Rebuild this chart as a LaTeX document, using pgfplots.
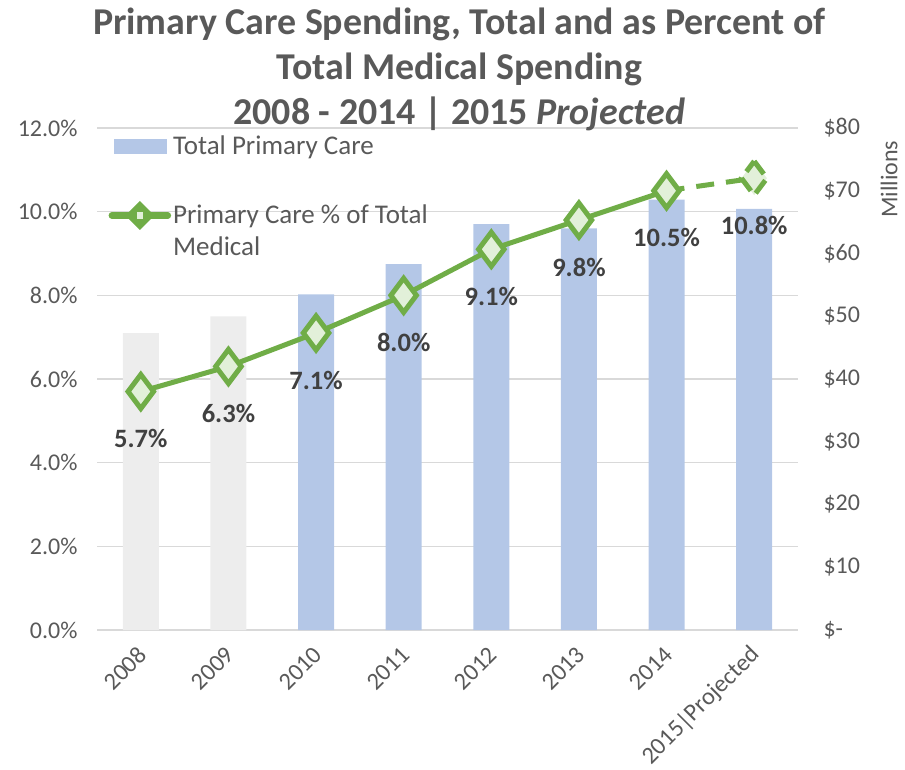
\documentclass[border=0pt]{standalone}
\usepackage{pgfplots}
\pgfplotsset{compat=1.18}
\usepackage{fontspec}
\setmainfont{Carlito}
\definecolor{txt}{HTML}{595959}
\definecolor{gridc}{HTML}{D9D9D9}
\definecolor{barblue}{HTML}{B4C7E7}
\definecolor{bargray}{HTML}{EDEDED}
\definecolor{lgreen}{HTML}{70AD47}
\definecolor{mfill}{HTML}{E2F0D9}
\definecolor{lbl}{HTML}{404040}
\begin{document}
\begin{tikzpicture}[x=1pt,y=1pt]
\useasboundingbox (-97,-139) rectangle (808,630);
% Bars on the right ($ millions) axis, with the gridlines behind
\begin{axis}[
  at={(0pt,0pt)}, anchor=south west,
  width=701pt, height=502pt, scale only axis,
  xmin=-0.5, xmax=7.5, ymin=0, ymax=80,
  axis y line*=right, axis x line*=bottom,
  y axis line style={draw=none},
  x axis line style={draw=gridc, line width=1.5pt, -},
  major tick length=0pt,
  xtick={0,...,7},
  xticklabels={2008,2009,2010,2011,2012,2013,2014,2015|Projected},
  x tick label style={rotate=45, anchor=east, font=\fontsize{24.3}{28}\selectfont, text=txt, xshift=-10pt, yshift=-16pt},
  ytick={0,10,...,80},
  yticklabels={\$-,\$10,\$20,\$30,\$40,\$50,\$60,\$70,\$80},
  y tick label style={font=\fontsize{24}{28}\selectfont, text=txt, anchor=west, xshift=22pt},
  extra y ticks={13.3333,26.6667,40,53.3333,66.6667,80},
  extra y tick labels={},
  extra y tick style={grid=major, major grid style={draw=gridc, line width=1.5pt}},
  ybar, bar width=36pt,
]
\addplot[fill=bargray, draw=none, bar shift=0pt] coordinates {(0,47.3) (1,50.0)};
\addplot[fill=barblue, draw=none, bar shift=0pt] coordinates {(2,53.5) (3,58.3) (4,64.7) (5,64.0) (6,68.6) (7,67.1)};
\end{axis}
% Line on the left (percent) axis
\begin{axis}[
  at={(0pt,0pt)}, anchor=south west,
  width=701pt, height=502pt, scale only axis,
  xmin=-0.5, xmax=7.5, ymin=0, ymax=12,
  axis y line*=left, axis x line=none,
  y axis line style={draw=none},
  major tick length=0pt,
  xtick=\empty,
  ytick={0,2,...,12},
  yticklabels={0.0\%,2.0\%,4.0\%,6.0\%,8.0\%,10.0\%,12.0\%},
  y tick label style={font=\fontsize{24}{28}\selectfont, text=txt, anchor=east, xshift=-16pt},
  /pgf/number format/assume math mode=true,
  clip=false,
  legend style={at={(rel axis cs:0.012,0.993)}, anchor=north west, draw=none, fill=none,
    font=\fontsize{27}{32}\selectfont, text=txt, row sep=44pt,
    cells={anchor=base west, align=left}},
]
\addlegendimage{legend image code/.code={\fill[barblue] (4pt,1pt) rectangle (56pt,15pt);}}
\addlegendentry{Total Primary Care}
\addplot[lgreen, line width=5pt, dash pattern=on 18pt off 12pt, forget plot] coordinates {(6,10.5) (7,10.8)};
\addplot[lgreen, line width=5pt, mark=diamond*, mark size=17pt,
  mark options={fill=mfill, draw=lgreen, line width=5pt},
  legend image code/.code={\draw[lgreen, line width=6.5pt, line cap=round] (2pt,40pt) -- (58pt,40pt);
     \fill[lgreen] (30pt,29pt) -- (41pt,40pt) -- (30pt,51pt) -- (19pt,40pt) -- cycle;
     \fill[mfill] (30pt,39pt) rectangle (31pt,41pt);},
  nodes near coords={\pgfmathprintnumber[fixed,fixed zerofill,precision=1]{\pgfplotspointmeta}\%},
  every node near coord/.style={anchor=north, yshift=-32pt, font=\bfseries\fontsize{26.5}{30}\selectfont, text=lbl},
  point meta=explicit,
] coordinates {(0,5.7)[5.7] (1,6.3)[6.3] (2,7.1)[7.1] (3,8.0)[8.0] (4,9.1)[9.1] (5,9.8)[9.8] (6,10.5)[10.5]};
\addlegendentry{Primary Care \% of Total\\Medical}
\addplot[lgreen, line width=5pt, mark=diamond*, mark size=17pt, forget plot,
  mark options={fill=mfill, draw=lgreen, line width=5pt, dash pattern=on 16pt off 8pt},
  nodes near coords={\pgfmathprintnumber[fixed,fixed zerofill,precision=1]{\pgfplotspointmeta}\%},
  every node near coord/.style={anchor=north, yshift=-32pt, font=\bfseries\fontsize{26.5}{30}\selectfont, text=lbl},
  point meta=explicit,
] coordinates {(7,10.8)[10.8]};
\node[rotate=90, font=\fontsize{24}{28}\selectfont, text=txt] at (rel axis cs:1.13,0.898) {Millions};
\node[anchor=north, align=center, font=\bfseries\fontsize{37.9}{45}\selectfont, text=txt] at (rel axis cs:0.517,1.247)
  {Primary Care Spending, Total and as Percent of\\Total Medical Spending\\2008 - 2014 | 2015 \textit{Projected}};
\end{axis}
\end{tikzpicture}
\end{document}
